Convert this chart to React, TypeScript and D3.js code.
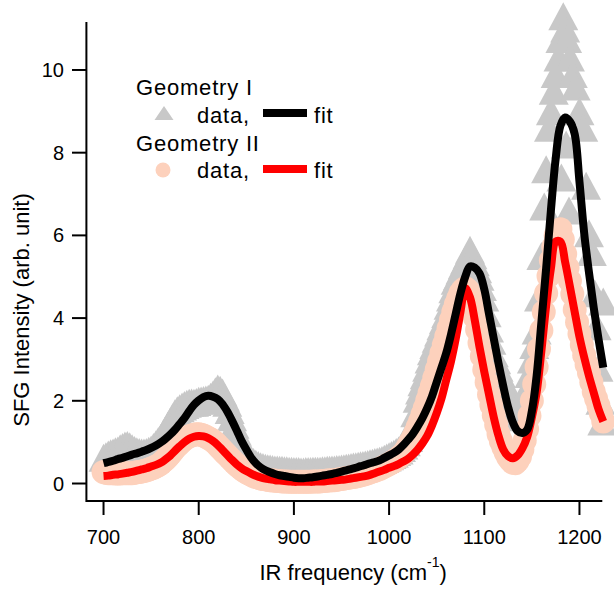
import React from "react";
import * as d3 from "d3";

// ---- data ----
const FIT_FREQ = [
  700, 705, 710, 715, 720, 725, 730, 735, 740, 745,
  750, 755, 760, 765, 770, 775, 780, 785, 790, 795,
  800, 805, 810, 815, 820, 825, 830, 835, 840, 845,
  850, 855, 860, 865, 870, 875, 880, 885, 890, 895,
  900, 905, 910, 915, 920, 925, 930, 935, 940, 945,
  950, 955, 960, 965, 970, 975, 980, 985, 990, 995,
  1000, 1005, 1010, 1015, 1020, 1025, 1030, 1035, 1040, 1045,
  1050, 1055, 1060, 1065, 1070, 1075, 1080, 1085, 1090, 1095,
  1100, 1105, 1110, 1115, 1120, 1125, 1130, 1135, 1140, 1145,
  1150, 1155, 1160, 1165, 1170, 1175, 1180, 1185, 1190, 1195,
  1200, 1205, 1210, 1215, 1220, 1225,
];

const FIT_GEOM1 = [
  0.49, 0.52, 0.55, 0.59, 0.62, 0.66, 0.7, 0.73, 0.77, 0.81,
  0.86, 0.92, 0.99, 1.08, 1.18, 1.3, 1.44, 1.58, 1.75, 1.9,
  2.01, 2.09, 2.12, 2.1, 2.04, 1.92, 1.74, 1.52, 1.28, 1.03,
  0.82, 0.63, 0.49, 0.39, 0.32, 0.27, 0.23, 0.2, 0.18, 0.16,
  0.14, 0.13, 0.13, 0.14, 0.15, 0.17, 0.19, 0.21, 0.23, 0.26,
  0.29, 0.32, 0.35, 0.38, 0.42, 0.45, 0.49, 0.52, 0.56, 0.62,
  0.68, 0.74, 0.82, 0.93, 1.06, 1.2, 1.38, 1.58, 1.82, 2.1,
  2.45, 2.8, 3.15, 3.6, 4.1, 4.6, 5.0, 5.25, 5.22, 5.08,
  4.7, 4.1, 3.5, 2.9, 2.35, 1.85, 1.48, 1.27, 1.22, 1.3,
  1.75, 2.6, 3.9, 5.2, 6.6, 7.85, 8.65, 8.85, 8.75, 8.45,
  7.3, 6.05, 5.1, 4.25, 3.5, 2.8,
];

const FIT_GEOM2 = [
  0.18, 0.19, 0.21, 0.22, 0.24, 0.26, 0.28, 0.31, 0.34, 0.37,
  0.41, 0.45, 0.5, 0.58, 0.67, 0.79, 0.9, 1.0, 1.08, 1.13,
  1.15, 1.14, 1.1, 1.03, 0.93, 0.81, 0.69, 0.57, 0.46, 0.37,
  0.3, 0.24, 0.19, 0.15, 0.12, 0.1, 0.08, 0.07, 0.06, 0.05,
  0.04, 0.04, 0.04, 0.04, 0.04, 0.05, 0.05, 0.06, 0.07, 0.08,
  0.09, 0.1, 0.12, 0.14, 0.16, 0.18, 0.21, 0.25, 0.29, 0.33,
  0.38, 0.42, 0.47, 0.53, 0.6, 0.7, 0.82, 0.97, 1.15, 1.4,
  1.7, 2.05, 2.5, 2.95, 3.5, 4.15, 4.72, 4.5, 3.95, 3.3,
  2.7, 2.15, 1.6, 1.15, 0.82, 0.66, 0.61, 0.68, 0.85, 1.12,
  1.6, 2.2, 3.2, 4.3, 5.2, 5.85, 5.85, 5.35, 4.76, 4.15,
  3.55, 3.05, 2.6, 2.2, 1.8, 1.5,
];

// Geometry II data: 700 .. 1225 every 2.5 cm-1
const DATA_GEOM2_FREQ = [
  700, 702.5, 705, 707.5, 710, 712.5, 715, 717.5, 720, 722.5,
  725, 727.5, 730, 732.5, 735, 737.5, 740, 742.5, 745, 747.5,
  750, 752.5, 755, 757.5, 760, 762.5, 765, 767.5, 770, 772.5,
  775, 777.5, 780, 782.5, 785, 787.5, 790, 792.5, 795, 797.5,
  800, 802.5, 805, 807.5, 810, 812.5, 815, 817.5, 820, 822.5,
  825, 827.5, 830, 832.5, 835, 837.5, 840, 842.5, 845, 847.5,
  850, 852.5, 855, 857.5, 860, 862.5, 865, 867.5, 870, 872.5,
  875, 877.5, 880, 882.5, 885, 887.5, 890, 892.5, 895, 897.5,
  900, 902.5, 905, 907.5, 910, 912.5, 915, 917.5, 920, 922.5,
  925, 927.5, 930, 932.5, 935, 937.5, 940, 942.5, 945, 947.5,
  950, 952.5, 955, 957.5, 960, 962.5, 965, 967.5, 970, 972.5,
  975, 977.5, 980, 982.5, 985, 987.5, 990, 992.5, 995, 997.5,
  1000, 1002.5, 1005, 1007.5, 1010, 1012.5, 1015, 1017.5, 1020, 1022.5,
  1025, 1027.5, 1030, 1032.5, 1035, 1037.5, 1040, 1042.5, 1045, 1047.5,
  1050, 1052.5, 1055, 1057.5, 1060, 1062.5, 1065, 1067.5, 1070, 1072.5,
  1075, 1077.5, 1080, 1082.5, 1085, 1087.5, 1090, 1092.5, 1095, 1097.5,
  1100, 1102.5, 1105, 1107.5, 1110, 1112.5, 1115, 1117.5, 1120, 1122.5,
  1125, 1127.5, 1130, 1132.5, 1135, 1137.5, 1140, 1142.5, 1145, 1147.5,
  1150, 1152.5, 1155, 1157.5, 1160, 1162.5, 1165, 1167.5, 1170, 1172.5,
  1175, 1177.5, 1180, 1182.5, 1185, 1187.5, 1190, 1192.5, 1195, 1197.5,
  1200, 1202.5, 1205, 1207.5, 1210, 1212.5, 1215, 1217.5, 1220, 1222.5,
  1225,
];

const DATA_GEOM2 = [
  0.28, 0.26, 0.25, 0.25, 0.25, 0.24, 0.24, 0.24, 0.25, 0.25,
  0.25, 0.25, 0.25, 0.26, 0.27, 0.28, 0.29, 0.3, 0.32, 0.34,
  0.36, 0.38, 0.41, 0.44, 0.48, 0.53, 0.58, 0.64, 0.71, 0.78,
  0.85, 0.91, 0.97, 1.02, 1.07, 1.11, 1.14, 1.16, 1.18, 1.19,
  1.19, 1.18, 1.16, 1.13, 1.1, 1.07, 1.03, 0.98, 0.92, 0.86,
  0.8, 0.74, 0.68, 0.62, 0.56, 0.5, 0.45, 0.4, 0.35, 0.31,
  0.27, 0.24, 0.21, 0.18, 0.16, 0.14, 0.12, 0.11, 0.1, 0.09,
  0.08, 0.07, 0.07, 0.06, 0.06, 0.05, 0.05, 0.05, 0.04, 0.04,
  0.04, 0.04, 0.04, 0.04, 0.04, 0.04, 0.04, 0.04, 0.05, 0.05,
  0.05, 0.05, 0.06, 0.06, 0.07, 0.07, 0.08, 0.08, 0.09, 0.1,
  0.11, 0.12, 0.13, 0.14, 0.15, 0.16, 0.17, 0.18, 0.2, 0.21,
  0.23, 0.25, 0.27, 0.29, 0.31, 0.33, 0.35, 0.38, 0.41, 0.44,
  0.47, 0.5, 0.54, 0.58, 0.62, 0.67, 0.72, 0.8, 0.9, 1.0,
  1.1, 1.22, 1.36, 1.5, 1.66, 1.82, 2.0, 2.18, 2.36, 2.55,
  2.75, 2.95, 3.15, 3.35, 3.55, 3.75, 3.95, 4.15, 4.32, 4.47,
  4.6, 4.68, 4.73, 4.68, 4.52, 4.3, 4.02, 3.72, 3.4, 3.08,
  2.75, 2.45, 2.15, 1.9, 1.65, 1.42, 1.2, 1.02, 0.88, 0.75,
  0.64, 0.56, 0.5, 0.49, 0.55, 0.65, 0.82, 1.04, 1.32, 1.64,
  2.0, 2.4, 2.82, 3.25, 3.7, 4.15, 4.6, 5.02, 5.4, 5.72,
  6.0, 6.12, 6.15, 5.9, 5.55, 5.22, 4.9, 4.58, 4.2, 3.9,
  3.62, 3.35, 3.1, 2.88, 2.68, 2.45, 2.22, 2.05, 1.88, 1.7,
  1.5,
];

// Geometry I data
const DATA_GEOM1_FREQ = [
  700, 702.5, 705, 707.5, 710, 712.5, 715, 717.5, 720, 722.5,
  725, 727.5, 730, 732.5, 735, 737.5, 740, 742.5, 745, 747.5,
  750, 752.5, 755, 757.5, 760, 762.5, 765, 767.5, 770, 772.5,
  775, 777.5, 780, 782.5, 785, 787.5, 790, 792.5, 795, 797.5,
  800, 802.5, 805, 807.5, 810, 812.5, 815, 817.5, 820, 822.5,
  825, 827.5, 830, 832.5, 835, 837.5, 840, 842.5, 845, 847.5,
  850, 852.5, 855, 857.5, 860, 862.5, 865, 867.5, 870, 872.5,
  875, 877.5, 880, 882.5, 885, 887.5, 890, 892.5, 895, 897.5,
  900, 902.5, 905, 907.5, 910, 912.5, 915, 917.5, 920, 922.5,
  925, 927.5, 930, 932.5, 935, 937.5, 940, 942.5, 945, 947.5,
  950, 952.5, 955, 957.5, 960, 962.5, 965, 967.5, 970, 972.5,
  975, 977.5, 980, 982.5, 985, 987.5, 990, 992.5, 995, 997.5,
  1000, 1002.5, 1005, 1007.5, 1010, 1012.5, 1015, 1017.5, 1020, 1022.5,
  1025, 1027.5, 1030, 1032.5, 1035, 1037.5, 1040, 1042.5, 1045, 1047.5,
  1050, 1052.5, 1055, 1057.5, 1060, 1062.5, 1065, 1067.5, 1070, 1072.5,
  1075, 1077.5, 1080, 1082.5, 1085, 1087.5, 1090, 1092.5, 1095, 1097.5,
  1100, 1102.5, 1105, 1107.5, 1110, 1112.5, 1115, 1117.5, 1120, 1122.5,
  1125, 1127.5, 1130, 1132.5, 1135, 1137.5, 1140, 1142.5, 1145, 1147.5,
  1150, 1152.5, 1155, 1157.5, 1160, 1163, 1165, 1168, 1170, 1173,
  1175, 1178, 1180, 1181, 1183, 1185, 1186, 1187, 1189, 1190,
  1193, 1196, 1200, 1204, 1207, 1210, 1213, 1216, 1218, 1220,
  1222, 1224, 1225,
];

const DATA_GEOM1 = [
  0.62, 0.66, 0.7, 0.73, 0.75, 0.78, 0.8, 0.85, 0.88, 0.92,
  0.93, 0.9, 0.85, 0.81, 0.78, 0.76, 0.75, 0.75, 0.76, 0.79,
  0.82, 0.88, 0.95, 1.03, 1.1, 1.2, 1.3, 1.4, 1.5, 1.6,
  1.7, 1.77, 1.82, 1.86, 1.9, 1.93, 1.95, 1.96, 1.95, 1.97,
  2.0, 2.01, 2.02, 2.03, 2.05, 2.1, 2.15, 2.23, 2.3, 2.27,
  2.2, 2.08, 1.95, 1.78, 1.6, 1.42, 1.25, 1.1, 0.95, 0.83,
  0.72, 0.64, 0.58, 0.52, 0.48, 0.45, 0.42, 0.4, 0.38, 0.37,
  0.36, 0.35, 0.34, 0.34, 0.33, 0.33, 0.32, 0.32, 0.31, 0.31,
  0.3, 0.3, 0.3, 0.29, 0.29, 0.3, 0.3, 0.3, 0.31, 0.31,
  0.31, 0.31, 0.32, 0.32, 0.33, 0.33, 0.34, 0.34, 0.35, 0.35,
  0.36, 0.37, 0.38, 0.39, 0.4, 0.41, 0.42, 0.43, 0.44, 0.45,
  0.46, 0.47, 0.49, 0.5, 0.52, 0.53, 0.55, 0.57, 0.6, 0.63,
  0.66, 0.69, 0.72, 0.76, 0.8, 0.86, 0.92, 1.0, 1.1, 1.25,
  1.4, 1.7, 2.05, 2.25, 2.45, 2.62, 2.8, 3.0, 3.2, 3.35,
  3.5, 3.65, 3.8, 3.95, 4.1, 4.3, 4.5, 4.7, 4.9, 5.02,
  5.15, 5.28, 5.4, 5.52, 5.65, 5.52, 5.35, 5.18, 5.0, 4.75,
  4.5, 4.12, 3.75, 3.45, 3.15, 2.98, 2.8, 2.65, 2.5, 2.35,
  2.2, 2.05, 1.9, 1.8, 1.7, 1.65, 1.6, 1.9, 2.3, 2.65,
  3.0, 3.35, 3.7, 4.5, 5.5, 6.7, 7.6, 8.6, 9.0, 9.5,
  9.9, 10.3, 10.75, 7.4, 11.3, 11.0, 8.2, 10.75, 6.6, 10.3,
  9.9, 9.6, 9.0, 8.6, 7.2, 6.05, 5.6, 4.6, 3.8, 2.8,
  2.0, 1.5, 4.4,
];

const X_TICKS = [700, 800, 900, 1000, 1100, 1200];
const Y_TICKS = [0, 2, 4, 6, 8, 10];

const GRAY = "#c8c8c8";
const PEACH = "#fdd1bc";
const FONT = "'Liberation Sans', Arial, Helvetica, sans-serif";

export default function App() {
  const W = 614;
  const H = 592;
  const x = d3.scaleLinear().domain([682, 1224]).range([86.4, 602.3]);
  const y = d3.scaleLinear().domain([-0.423, 11.16]).range([501, 22]);

  const fitLine = d3
    .line<number>()
    .x((_, i) => x(FIT_FREQ[i]))
    .y((d) => y(d))
    .curve(d3.curveCatmullRom.alpha(0.5));

  const triW = 30;
  const triH = 28;
  const tri = `M0,${-triH / 2}L${triW / 2},${triH / 2}L${-triW / 2},${triH / 2}Z`;
  const legTri = `M0,-7L9.5,7L-9.5,7Z`;

  return (
    <svg
      width={W}
      height={H}
      style={{ position: "absolute", left: 0, top: 0, background: "#fff" }}
      fontFamily={FONT}
    >
      <rect x={0} y={0} width={W} height={H} fill="#fff" />
      {/* Geometry I data */}
      <g fill={GRAY}>
        {DATA_GEOM1.map((v, i) => (
          <path key={i} d={tri} transform={`translate(${x(DATA_GEOM1_FREQ[i])},${y(v)})`} />
        ))}
      </g>
      {/* Geometry II data */}
      <g fill={PEACH}>
        {DATA_GEOM2.map((v, i) => (
          <circle key={i} cx={x(DATA_GEOM2_FREQ[i])} cy={y(v)} r={12} />
        ))}
      </g>
      {/* fits */}
      <path d={fitLine(FIT_GEOM2) || ""} fill="none" stroke="#ff0000" strokeWidth={8} strokeLinejoin="round" />
      <path d={fitLine(FIT_GEOM1) || ""} fill="none" stroke="#000" strokeWidth={8} strokeLinejoin="round" />

      {/* axes */}
      <line x1={x.range()[0]} x2={x.range()[1]} y1={501} y2={501} stroke="#000" strokeWidth={2} />
      <line x1={86.4} x2={86.4} y1={22} y2={502} stroke="#000" strokeWidth={2} />
      {X_TICKS.map((t) => (
        <g key={t}>
          <line x1={x(t)} x2={x(t)} y1={501} y2={515} stroke="#000" strokeWidth={2} />
          <text x={x(t)} y={544} textAnchor="middle" fontSize={20}>
            {t}
          </text>
        </g>
      ))}
      {Y_TICKS.map((t) => (
        <g key={t}>
          <line x1={72} x2={86.4} y1={y(t)} y2={y(t)} stroke="#000" strokeWidth={2} />
          <text x={64} y={y(t) + 7} textAnchor="end" fontSize={20}>
            {t}
          </text>
        </g>
      ))}
      <text x={259.5} y={580} fontSize={22}>
        IR frequency (cm
        <tspan fontSize={14} dy={-13}>-1</tspan>
        <tspan dy={13}>)</tspan>
      </text>
      <text transform="translate(28.5,310) rotate(-90)" textAnchor="middle" fontSize={22}>
        SFG Intensity (arb. unit)
      </text>

      {/* legend */}
      <g fontSize={22} letterSpacing={0.8}>
        <text x={136} y={95}>Geometry I</text>
        <path d={legTri} fill={GRAY} transform="translate(164,113)" />
        <text x={197} y={122.5}>data,</text>
        <line x1={263} x2={307} y1={113} y2={113} stroke="#000" strokeWidth={8} />
        <text x={314} y={122.5}>fit</text>
        <text x={136} y={150.5}>Geometry II</text>
        <circle cx={163} cy={170} r={7.5} fill={PEACH} />
        <text x={197} y={178}>data,</text>
        <line x1={263} x2={307} y1={169} y2={169} stroke="#ff0000" strokeWidth={8} />
        <text x={314} y={178}>fit</text>
      </g>
    </svg>
  );
}
